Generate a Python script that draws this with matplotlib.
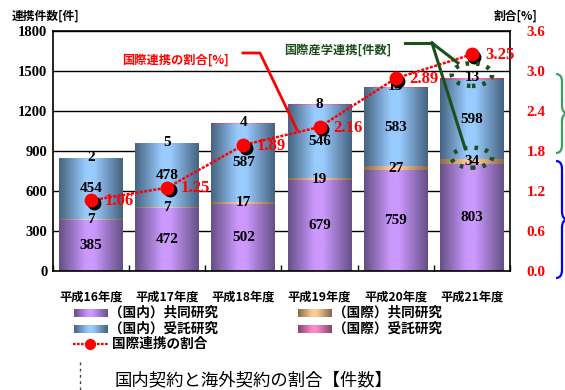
import numpy as np
import matplotlib
matplotlib.use("Agg")
import matplotlib.pyplot as plt
import matplotlib.transforms as mtransforms
from matplotlib.colors import LinearSegmentedColormap
from matplotlib.patches import Ellipse, PathPatch
from matplotlib.path import Path
from matplotlib.lines import Line2D

# ---- data -------------------------------------------------------------
years = ["平成16年度", "平成17年度", "平成18年度", "平成19年度", "平成20年度", "平成21年度"]
domestic_joint = [385, 472, 502, 679, 759, 803]      # (国内)共同研究
intl_joint = [7, 7, 17, 19, 27, 34]                  # (国際)共同研究
domestic_contract = [454, 478, 587, 546, 583, 598]   # (国内)受託研究
intl_contract = [2, 5, 4, 8, 13, 13]                 # (国際)受託研究
intl_ratio = [1.06, 1.25, 1.89, 2.16, 2.89, 3.25]    # 国際連携の割合 [%]

left_ticks = [0, 300, 600, 900, 1200, 1500, 1800]
right_ticks = [0.0, 0.6, 1.2, 1.8, 2.4, 3.0, 3.6]

series_labels = ["（国内）共同研究", "（国際）共同研究", "（国内）受託研究", "（国際）受託研究"]
series_edges = ["#654f85", "#86684a", "#46627f", "#864266"]
series_centers = ["#cc99ff", "#ffcc99", "#99ccff", "#ff88cc"]

JP = ["Noto Sans CJK JP", "DejaVu Sans"]
NUM = ["Liberation Serif", "DejaVu Serif"]
W, H = 565, 390


def cyl_cmap(edge, center):
    return LinearSegmentedColormap.from_list(
        "cyl", [(0.0, edge), (0.42, center), (0.55, center), (1.0, edge)])


def fig_xy(px, py):
    return px / W, 1 - py / H


fig = plt.figure(figsize=(W / 100, H / 100), dpi=100)
fig.patch.set_facecolor("white")
ax = fig.add_axes([53 / W, 1 - 271 / H, (510 - 53) / W, (271 - 31) / H])

x = np.arange(len(years))
width = 0.84
grad = np.linspace(0, 1, 256).reshape(1, -1)

bottom = np.zeros(len(years))
layers = [domestic_joint, intl_joint, domestic_contract, intl_contract]
containers = []
for vals, edge, center in zip(layers, series_edges, series_centers):
    bc = ax.bar(x, vals, width, bottom=bottom, color=center, edgecolor="none", zorder=2)
    cmap = cyl_cmap(edge, center)
    for rect in bc:
        x0, y0 = rect.get_xy()
        im = ax.imshow(grad, cmap=cmap, aspect="auto", interpolation="bicubic",
                       extent=[x0, x0 + rect.get_width(), y0, y0 + rect.get_height()],
                       zorder=2.1)
        im.set_clip_path(rect)
    containers.append(bottom.copy())
    bottom = bottom + np.array(vals)

ax.set_xlim(-0.49, len(years) - 0.51)
ax.set_ylim(0, 1800)
ax.set_yticks(left_ticks)
ax.set_yticklabels([str(t) for t in left_ticks], family=NUM, fontweight="bold", fontsize=10.5)
ax.yaxis.grid(True, color="black", linewidth=1)
ax.set_axisbelow(True)
ax.set_xticks(x)
ax.set_xticklabels(years, family=JP, fontweight="bold", fontsize=8.8)
ax.set_xticks(np.arange(len(years) + 1) - 0.5, minor=True)
ax.tick_params(axis="x", which="major", length=0, pad=14)
ax.tick_params(axis="x", which="minor", length=4, direction="in", width=1)
ax.tick_params(axis="y", length=0, pad=4)
for s in ax.spines.values():
    s.set_color("black")
    s.set_linewidth(1.2)

# segment value labels
lab_kw = dict(ha="center", va="center", family=NUM, fontweight="bold", fontsize=11,
              color="black", zorder=5)
for i in x:
    b0 = containers[0][i]
    ax.text(i, b0 + domestic_joint[i] / 2, str(domestic_joint[i]), **lab_kw)
    b1 = containers[1][i]
    ax.text(i, b1 + intl_joint[i] / 2, str(intl_joint[i]), **lab_kw)
    b2 = containers[2][i]
    ax.text(i, b2 + domestic_contract[i] / 2, str(domestic_contract[i]), **lab_kw)
    b3 = containers[3][i]
    ax.text(i, b3 + intl_contract[i], str(intl_contract[i]), **lab_kw)

# ratio line on the secondary axis
ax2 = ax.twinx()
ax2.set_ylim(0, 3.6)
ax2.set_yticks(right_ticks)
ax2.set_yticklabels([f"{t:.1f}" for t in right_ticks], family=NUM, fontweight="bold",
                    fontsize=11, color="red")
ax2.tick_params(axis="y", length=0, pad=12)
for s in ax2.spines.values():
    s.set_visible(False)
ax2.plot(x, intl_ratio, color="red", lw=1.8, ls=(0, (1.2, 0.6)), zorder=3)
shadow = mtransforms.offset_copy(ax2.transData, fig=fig, x=2.5, y=-2.5, units="dots")
ax2.plot(x, intl_ratio, ls="none", marker="o", ms=9, color="black", transform=shadow, zorder=4)
ax2.plot(x, intl_ratio, ls="none", marker="o", ms=9, color="red", zorder=5)
for i, v in zip(x, intl_ratio):
    ax2.annotate(f"{v:.2f}", (i, v), xytext=(9.5, -0.5), textcoords="offset points",
                 ha="left", va="center", family=NUM, fontweight="bold", fontsize=12,
                 color="red", zorder=6)

# axis titles
fig.text(*fig_xy(12, 16), "連携件数[件]", family=JP, fontweight="bold", fontsize=8.5,
         ha="left", va="center")
fig.text(*fig_xy(537, 16), "割合[%]", family=JP, fontweight="bold", fontsize=8.5,
         ha="right", va="center")

# callout: international ratio
fig.text(*fig_xy(175, 60), "国際連携の割合[%]", family=JP, fontweight="bold", fontsize=8.8,
         color="red", ha="center", va="center")
px = [243, 260, 297]
py = [53, 53, 130]
fig.add_artist(Line2D([p / W for p in px], [1 - p / H for p in py], color="red", lw=2,
                      transform=fig.transFigure))

# callout: international industry-academia collaboration
dg = "#1c4f1c"
fig.text(*fig_xy(338, 50), "国際産学連携[件数]", family=JP, fontweight="bold", fontsize=8.8,
         color=dg, ha="center", va="center")
for seg in ([(405, 43), (432, 43)], [(432, 43), (458, 63)], [(432, 43), (465, 148)]):
    fig.add_artist(Line2D([p[0] / W for p in seg], [1 - p[1] / H for p in seg], color=dg,
                          lw=2.2, transform=fig.transFigure))
last = len(years) - 1
for cy, hgt in ((bottom[last] + 25, 170), (containers[1][last] + intl_joint[last] / 2 + 30, 150)):
    ax2.add_artist(Ellipse((last, cy / 500.0), 0.53, hgt / 500.0, fill=False, edgecolor=dg,
                           lw=3.2, ls=(0, (0.8, 1.6)), zorder=7))


# curly braces at the right edge
def brace(xp, y0, y1, w, color):
    ym = (y0 + y1) / 2
    r = min(8, (y1 - y0) / 6)
    pts = [(xp, y0), (xp + w / 2, y0), (xp + w / 2, y0 + r),
           (xp + w / 2, ym - r), (xp + w / 2, ym), (xp + w, ym),
           (xp + w / 2, ym), (xp + w / 2, ym + r),
           (xp + w / 2, y1 - r), (xp + w / 2, y1), (xp, y1)]
    codes = [Path.MOVETO, Path.CURVE3, Path.CURVE3,
             Path.LINETO, Path.CURVE3, Path.CURVE3,
             Path.CURVE3, Path.CURVE3,
             Path.LINETO, Path.CURVE3, Path.CURVE3]
    verts = [fig_xy(a, b) for a, b in pts]
    fig.add_artist(PathPatch(Path(verts, codes), fill=False, edgecolor=color, lw=1.6,
                             transform=fig.transFigure))


brace(556, 74, 153, 12, "#3ca060")
brace(556, 161, 278, 12, "#0000ff")

# legend
def swatch(px0, py0, edge, center):
    sax = fig.add_axes([px0 / W, 1 - (py0 + 4.5) / H, 34 / W, 9 / H])
    sax.imshow(grad, cmap=cyl_cmap(edge, center), aspect="auto", interpolation="bicubic")
    sax.set_axis_off()


leg_pos = [(74, 313), (298, 313), (74, 329), (298, 329)]
for (lx, ly), lab, edge, center in zip(leg_pos, series_labels, series_edges, series_centers):
    swatch(lx, ly, edge, center)
    fig.text(*fig_xy(lx + 35, ly), lab, family=JP, fontsize=9.8, fontweight="bold",
             ha="left", va="center")
fig.add_artist(Line2D([73 / W, 108 / W], [1 - 344 / H] * 2, color="red", lw=1.6,
                      ls=(0, (1.2, 0.6)), transform=fig.transFigure))
fig.add_artist(Line2D([90 / W], [1 - 344 / H], color="red", marker="o", ms=7, ls="none",
                      transform=fig.transFigure))
fig.text(*fig_xy(112, 344), "国際連携の割合", family=JP, fontsize=9.8, fontweight="bold",
         ha="left", va="center")

# caption
fig.add_artist(Line2D([80 / W] * 2, [1 - 362 / H, 1 - 390 / H], color="#444444", lw=1,
                      ls=(0, (2, 2.5)), transform=fig.transFigure))
fig.text(*fig_xy(115, 380), "国内契約と海外契約の割合【件数】", family=JP, fontsize=12.5,
         ha="left", va="center")

fig.savefig("out.png", dpi=100)
